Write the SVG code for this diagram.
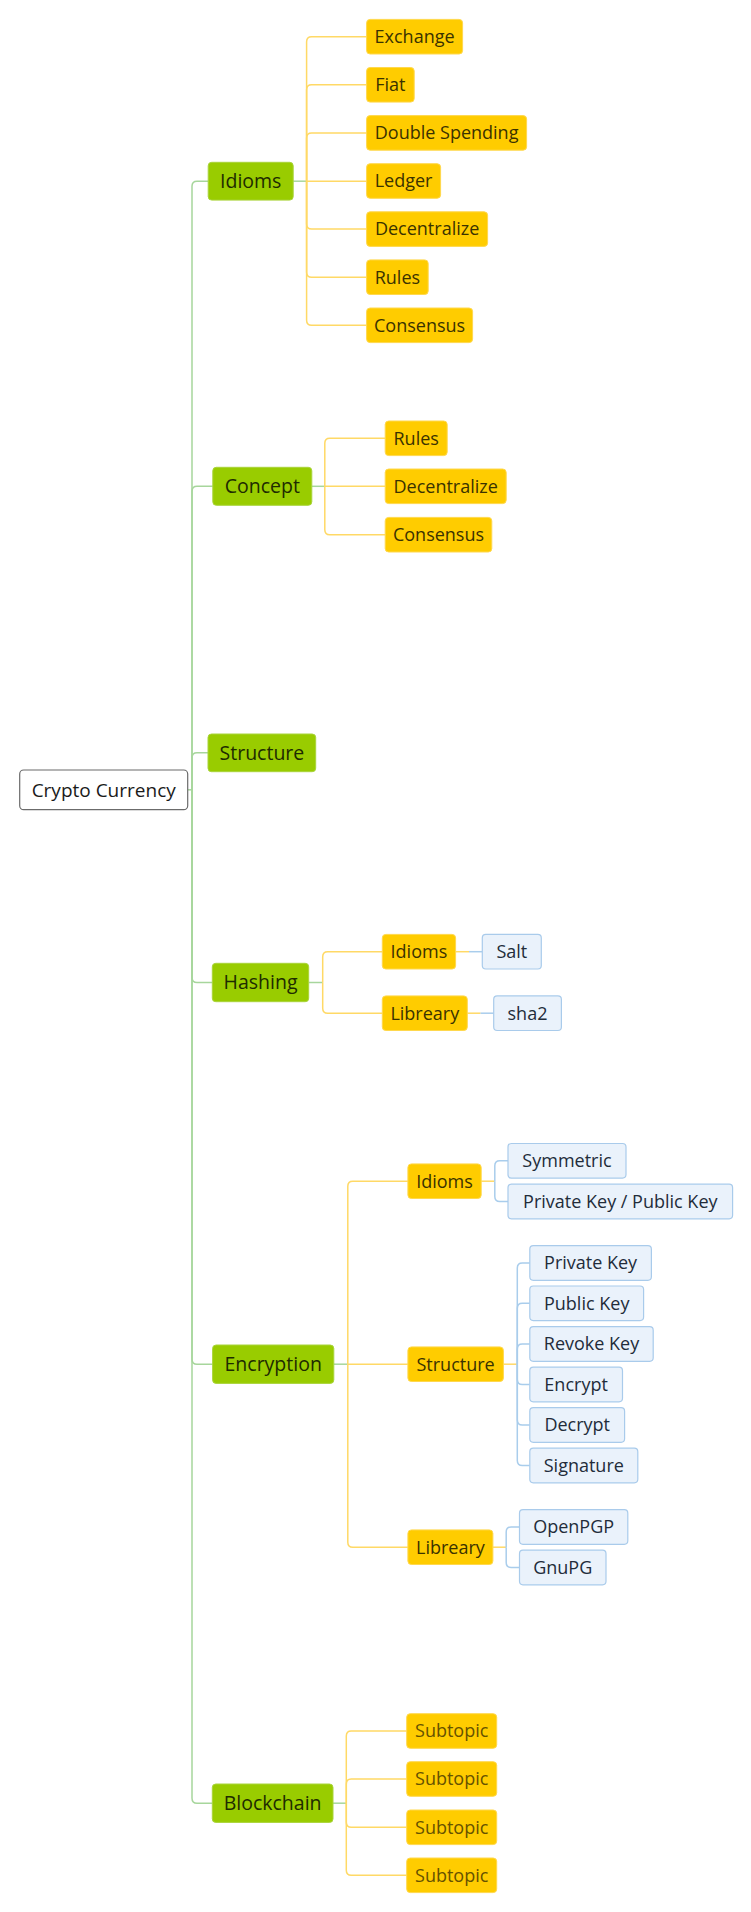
<svg xmlns="http://www.w3.org/2000/svg" width="751" height="1912" viewBox="0 0 751 1912">
<style>
  text { font-family: "Open Sans", "Liberation Sans", sans-serif; text-anchor: middle; }
  .root rect { fill: #ffffff; stroke: #6b6b6b; stroke-width: 1.2; }
  .root text { font-size: 19px; fill: #1a1a1a; }
  .g rect { fill: #99cc00; stroke: #a9d43a; stroke-width: 1; }
  .g text { font-size: 19.5px; fill: #1e2b00; }
  .y rect { fill: #ffcc00; stroke: #ffd84d; stroke-width: 1; }
  .y text { font-size: 18px; fill: #3a3200; }
  .y.sub text { fill: #665200; }
  .b rect { fill: #eaf2fb; stroke: #a9cbeb; stroke-width: 1.2; }
  .b text { font-size: 18px; fill: #222c3a; }
  #connectors path { fill: none; stroke-width: 1.5; }
  .lg { stroke: #a7d69c; }
  .ly { stroke: #ffd966; }
  .lb { stroke: #a9cdec; }
</style>
<rect width="751" height="1912" fill="#ffffff"/>
<g id="connectors">
  <path class="lg" d="M187.7 789.8 H192"/>
  <path class="lg" d="M192 789.8 V186.2 Q192 181.2 197 181.2 H208.2"/>
  <path class="lg" d="M192 789.8 V491.3 Q192 486.3 197 486.3 H212.8"/>
  <path class="lg" d="M192 789.8 V757.8 Q192 752.8 197 752.8 H208"/>
  <path class="lg" d="M192 789.8 V977.5 Q192 982.5 197 982.5 H212.3"/>
  <path class="lg" d="M192 789.8 V1359.2 Q192 1364.2 197 1364.2 H212.6"/>
  <path class="lg" d="M192 789.8 V1798.2 Q192 1803.2 197 1803.2 H212.3"/>
  <path class="lg" d="M293.2 181.2 H306.6"/>
  <path class="ly" d="M306.6 181.2 V41.7 Q306.6 36.7 311.6 36.7 H366.6"/>
  <path class="ly" d="M306.6 181.2 V89.8 Q306.6 84.8 311.6 84.8 H366.6"/>
  <path class="ly" d="M306.6 181.2 V137.9 Q306.6 132.9 311.6 132.9 H366.6"/>
  <path class="ly" d="M306.6 181.2 H366.6"/>
  <path class="ly" d="M306.6 181.2 V224.1 Q306.6 229.1 311.6 229.1 H366.6"/>
  <path class="ly" d="M306.6 181.2 V272.2 Q306.6 277.2 311.6 277.2 H366.6"/>
  <path class="ly" d="M306.6 181.2 V320.3 Q306.6 325.3 311.6 325.3 H366.6"/>
  <path class="lg" d="M311.8 486.3 H324.8"/>
  <path class="ly" d="M324.8 486.3 V443.3 Q324.8 438.3 329.8 438.3 H385.2"/>
  <path class="ly" d="M324.8 486.3 H385.2"/>
  <path class="ly" d="M324.8 486.3 V529.7 Q324.8 534.7 329.8 534.7 H385.2"/>
  <path class="lg" d="M308.7 982.5 H322.7"/>
  <path class="ly" d="M322.7 982.5 V956.7 Q322.7 951.7 327.7 951.7 H382.3"/>
  <path class="ly" d="M322.7 982.5 V1008.2 Q322.7 1013.2 327.7 1013.2 H382.3"/>
  <path class="ly" d="M455.6 951.7 H469"/>
  <path class="lb" d="M469 951.7 H482.3"/>
  <path class="ly" d="M467.3 1013.2 H480.5"/>
  <path class="lb" d="M480.5 1013.2 H493.7"/>
  <path class="lg" d="M333.8 1364.2 H347.8"/>
  <path class="ly" d="M347.8 1364.2 V1186.2 Q347.8 1181.2 352.8 1181.2 H407.9"/>
  <path class="ly" d="M347.8 1364.2 H407.9"/>
  <path class="ly" d="M347.8 1364.2 V1542.2 Q347.8 1547.2 352.8 1547.2 H407.9"/>
  <path class="ly" d="M481.2 1181.2 H494.8"/>
  <path class="lb" d="M494.8 1181.2 V1165.8 Q494.8 1160.8 499.8 1160.8 H508"/>
  <path class="lb" d="M494.8 1181.2 V1196.5 Q494.8 1201.5 499.8 1201.5 H508"/>
  <path class="ly" d="M503.4 1364.2 H517.3"/>
  <path class="lb" d="M517.3 1364.2 V1268 Q517.3 1263 522.3 1263 H529.8"/>
  <path class="lb" d="M517.3 1364.2 V1308.3 Q517.3 1303.3 522.3 1303.3 H529.8"/>
  <path class="lb" d="M517.3 1364.2 V1349 Q517.3 1344 522.3 1344 H529.8"/>
  <path class="lb" d="M517.3 1364.2 V1379.5 Q517.3 1384.5 522.3 1384.5 H529.8"/>
  <path class="lb" d="M517.3 1364.2 V1420 Q517.3 1425 522.3 1425 H529.8"/>
  <path class="lb" d="M517.3 1364.2 V1460.5 Q517.3 1465.5 522.3 1465.5 H529.8"/>
  <path class="ly" d="M493 1547.2 H506.2"/>
  <path class="lb" d="M506.2 1547.2 V1532 Q506.2 1527 511.2 1527 H519.5"/>
  <path class="lb" d="M506.2 1547.2 V1562.5 Q506.2 1567.5 511.2 1567.5 H519.5"/>
  <path class="lg" d="M333 1803.2 H346.3"/>
  <path class="ly" d="M346.3 1803.2 V1736 Q346.3 1731 351.3 1731 H406.7"/>
  <path class="ly" d="M346.3 1803.2 V1784 Q346.3 1779 351.3 1779 H406.7"/>
  <path class="ly" d="M346.3 1803.2 V1822.3 Q346.3 1827.3 351.3 1827.3 H406.7"/>
  <path class="ly" d="M346.3 1803.2 V1870.3 Q346.3 1875.3 351.3 1875.3 H406.7"/>
</g>

<g id="root" class="root"><rect x="19.7" y="770" width="168" height="39.7" rx="4"/><text x="103.7" y="796.6">Crypto Currency</text></g>

<g id="idioms" class="g"><rect x="208.2" y="162.3" width="85" height="37.8" rx="3.5"/><text x="250.7" y="188">Idioms</text></g>
<g id="concept" class="g"><rect x="212.8" y="467.3" width="99" height="38" rx="3.5"/><text x="262.3" y="493.1">Concept</text></g>
<g id="structure" class="g"><rect x="208" y="734" width="107.7" height="37.7" rx="3.5"/><text x="261.9" y="759.6">Structure</text></g>
<g id="hashing" class="g"><rect x="212.3" y="963.3" width="96.4" height="38.4" rx="3.5"/><text x="260.5" y="989.3">Hashing</text></g>
<g id="encryption" class="g"><rect x="212.6" y="1345" width="121.2" height="38.4" rx="3.5"/><text x="273.2" y="1371">Encryption</text></g>
<g id="blockchain" class="g"><rect x="212.3" y="1784" width="120.7" height="38.4" rx="3.5"/><text x="272.6" y="1810">Blockchain</text></g>

<g id="idioms-exchange" class="y"><rect x="366.6" y="19.4" width="96" height="34.6" rx="3.5"/><text x="414.6" y="43">Exchange</text></g>
<g id="idioms-fiat" class="y"><rect x="366.6" y="67.5" width="47.6" height="34.6" rx="3.5"/><text x="390.4" y="91.1">Fiat</text></g>
<g id="idioms-double-spending" class="y"><rect x="366.6" y="115.6" width="160" height="34.6" rx="3.5"/><text x="446.6" y="139.2">Double Spending</text></g>
<g id="idioms-ledger" class="y"><rect x="366.6" y="163.7" width="74" height="34.6" rx="3.5"/><text x="403.6" y="187.3">Ledger</text></g>
<g id="idioms-decentralize" class="y"><rect x="366.6" y="211.8" width="121" height="34.6" rx="3.5"/><text x="427.1" y="235.4">Decentralize</text></g>
<g id="idioms-rules" class="y"><rect x="366.6" y="259.9" width="61.6" height="34.6" rx="3.5"/><text x="397.4" y="283.5">Rules</text></g>
<g id="idioms-consensus" class="y"><rect x="366.6" y="308" width="106" height="34.6" rx="3.5"/><text x="419.6" y="331.6">Consensus</text></g>

<g id="concept-rules" class="y"><rect x="385.2" y="421" width="62" height="34.6" rx="3.5"/><text x="416.2" y="444.6">Rules</text></g>
<g id="concept-decentralize" class="y"><rect x="385.2" y="469" width="121" height="34.6" rx="3.5"/><text x="445.7" y="492.6">Decentralize</text></g>
<g id="concept-consensus" class="y"><rect x="385.2" y="517.4" width="106.6" height="34.6" rx="3.5"/><text x="438.5" y="541">Consensus</text></g>

<g id="hashing-idioms" class="y"><rect x="382.3" y="934.4" width="73.3" height="34.6" rx="3.5"/><text x="418.9" y="958">Idioms</text></g>
<g id="hashing-libreary" class="y"><rect x="382.3" y="995.9" width="85" height="34.6" rx="3.5"/><text x="424.8" y="1019.5">Libreary</text></g>
<g id="hashing-salt" class="b"><rect x="482.3" y="934.4" width="59" height="34.6" rx="3.5"/><text x="511.8" y="958">Salt</text></g>
<g id="hashing-sha2" class="b"><rect x="493.7" y="995.9" width="67.7" height="34.6" rx="3.5"/><text x="527.5" y="1019.5">sha2</text></g>

<g id="encryption-idioms" class="y"><rect x="407.9" y="1163.9" width="73.3" height="34.6" rx="3.5"/><text x="444.5" y="1187.5">Idioms</text></g>
<g id="encryption-structure" class="y"><rect x="407.9" y="1346.9" width="95.5" height="34.6" rx="3.5"/><text x="455.6" y="1370.5">Structure</text></g>
<g id="encryption-libreary" class="y"><rect x="407.9" y="1529.9" width="85" height="34.6" rx="3.5"/><text x="450.4" y="1553.5">Libreary</text></g>

<g id="enc-symmetric" class="b"><rect x="508" y="1143.5" width="118" height="34.6" rx="3.5"/><text x="567" y="1167.1">Symmetric</text></g>
<g id="enc-private-public" class="b"><rect x="508" y="1184.2" width="224.6" height="34.6" rx="3.5"/><text x="620.3" y="1207.8">Private Key / Public Key</text></g>
<g id="enc-private-key" class="b"><rect x="529.8" y="1245.7" width="121.6" height="34.6" rx="3.5"/><text x="590.6" y="1269.3">Private Key</text></g>
<g id="enc-public-key" class="b"><rect x="529.8" y="1286" width="113.8" height="34.6" rx="3.5"/><text x="586.7" y="1309.6">Public Key</text></g>
<g id="enc-revoke-key" class="b"><rect x="529.8" y="1326.7" width="123.4" height="34.6" rx="3.5"/><text x="591.5" y="1350.3">Revoke Key</text></g>
<g id="enc-encrypt" class="b"><rect x="529.8" y="1367.2" width="92.7" height="34.6" rx="3.5"/><text x="576.1" y="1390.8">Encrypt</text></g>
<g id="enc-decrypt" class="b"><rect x="529.8" y="1407.7" width="94.8" height="34.6" rx="3.5"/><text x="577.2" y="1431.3">Decrypt</text></g>
<g id="enc-signature" class="b"><rect x="529.8" y="1448.2" width="108" height="34.6" rx="3.5"/><text x="583.8" y="1471.8">Signature</text></g>
<g id="enc-openpgp" class="b"><rect x="519.5" y="1509.7" width="108.3" height="34.6" rx="3.5"/><text x="573.6" y="1533.3">OpenPGP</text></g>
<g id="enc-gnupg" class="b"><rect x="519.5" y="1550.2" width="86.5" height="34.6" rx="3.5"/><text x="562.7" y="1573.8">GnuPG</text></g>

<g id="blockchain-sub1" class="y sub"><rect x="406.7" y="1713.7" width="90" height="34.6" rx="3.5"/><text x="451.7" y="1737.3">Subtopic</text></g>
<g id="blockchain-sub2" class="y sub"><rect x="406.7" y="1761.7" width="90" height="34.6" rx="3.5"/><text x="451.7" y="1785.3">Subtopic</text></g>
<g id="blockchain-sub3" class="y sub"><rect x="406.7" y="1810" width="90" height="34.6" rx="3.5"/><text x="451.7" y="1833.6">Subtopic</text></g>
<g id="blockchain-sub4" class="y sub"><rect x="406.7" y="1858" width="90" height="34.6" rx="3.5"/><text x="451.7" y="1881.6">Subtopic</text></g>
</svg>
